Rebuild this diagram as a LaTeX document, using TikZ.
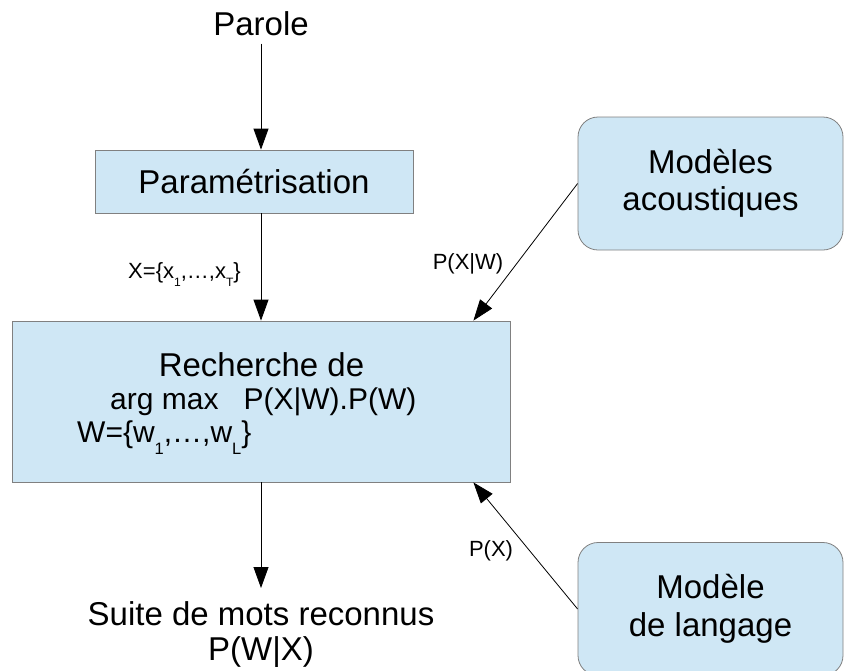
\documentclass[tikz,border=0pt]{standalone}
\usepackage{fontspec}
\setmainfont{Liberation Sans}
\usetikzlibrary{arrows.meta}
\definecolor{boxblue}{RGB}{207,231,245}
\definecolor{boxline}{RGB}{128,128,128}
\tikzstyle{flatbox}=[rectangle,draw=boxline,fill=boxblue,line width=0.8pt,
                     inner sep=0pt,text height=23.6pt,text depth=0pt]
\tikzstyle{roundbox}=[rectangle,rounded corners=20pt,draw=boxline,fill=boxblue,
                      line width=0.8pt,inner sep=0pt,align=center,
                      minimum width=265pt,minimum height=133pt]
\tikzstyle{link}=[draw=black,line width=0.8pt,-{Triangle[length=21pt,width=15pt]}]
\tikzstyle{bigtext}=[inner sep=0pt,font=\fontsize{33}{37.5}\selectfont]
\tikzstyle{midtext}=[inner sep=0pt,font=\fontsize{30}{33.5}\selectfont]
\tikzstyle{smalltext}=[inner sep=0pt,font=\fontsize{22}{26}\selectfont]
\newcommand{\lowidx}[1]{\raisebox{-0.4em}{\scalebox{0.55}{#1}}}

\begin{document}
\begin{tikzpicture}[x=1pt,y=-1pt]
    \path[clip,use as bounding box] (0,0) rectangle (845,670);
    % chaine principale
    \node (parole) [bigtext,anchor=base] at (261,35) {Parole};
    \node (param) [flatbox,bigtext,minimum width=318pt,minimum height=63pt]
          at (254,181.5) {Paramétrisation};
    \node (search) [flatbox,minimum width=498pt,minimum height=161pt]
          at (261,401.5) {};
    \node (srchA) [bigtext,anchor=base] at (261.5,376) {Recherche de};
    \node (srchB) [midtext,anchor=base west] at (110,409)
          {arg max\ \ \ P(X|W).P(W)};
    \node (srchC) [midtext,anchor=base west] at (77,442)
          {W=\{w\lowidx{1},…,w\lowidx{L}\}};
    \node (result) [bigtext,align=center,anchor=north,
                    font=\fontsize{33}{35.5}\selectfont] at (261,601)
          {Suite de mots reconnus\\P(W|X)};
    % modeles
    \node (acou) [roundbox,bigtext] at (710.5,183.5) {Modèles\\acoustiques};
    \node (lang) [roundbox,bigtext] at (710.5,609) {Modèle\\de langage};
    % fleches
    \draw[link,shorten <=8pt] (parole.south) -- (parole.south |- param.north);
    \draw[link] (param.south -| search.north) -- (search.north);
    \draw[link] (search.south) -- ([yshift=13pt]result.north);
    \draw[link] (acou.west) -- ([xshift=-37pt]search.north east);
    \draw[link] (lang.west) -- ([xshift=-37pt]search.south east);
    % etiquettes
    \node (xlab) [smalltext,anchor=base east] at (241,278)
          {X=\{x\lowidx{1},…,x\lowidx{T}\}};
    \node (pxw) [smalltext] at (468,264) {P(X|W)};
    \node (px) [smalltext] at (491,551) {P(X)};
\end{tikzpicture}
\end{document}
